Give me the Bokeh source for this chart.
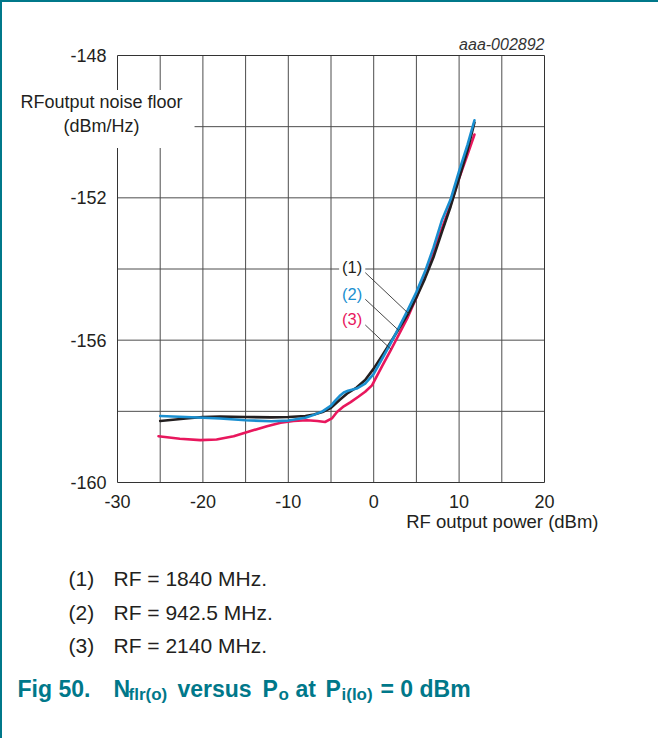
from bokeh.plotting import figure
from bokeh.models import Range1d, FixedTicker, LinearAxis, Label
from bokeh.embed import file_html
from bokeh.resources import INLINE

# ---------------- data ----------------
x_1840 = [-25, -22, -20, -18, -15, -12, -10, -8, -7, -6, -5, -4, -3, -2, -1, 0,
          1, 2, 3, 4, 5, 6, 7, 8, 9, 10, 11, 11.8]
y_1840 = [-158.27, -158.20, -158.16, -158.15, -158.16, -158.17, -158.16, -158.13,
          -158.09, -158.02, -157.90, -157.68, -157.48, -157.33, -157.12, -156.80,
          -156.43, -156.05, -155.66, -155.27, -154.80, -154.27, -153.67, -152.95,
          -152.25, -151.45, -150.65, -149.88]

x_942 = [-25, -22, -20, -18, -15, -12, -10, -8, -7, -6, -5, -4.5, -4, -3.5, -3, -2,
         -1, 0, 1, 2, 3, 4, 5, 6, 7, 8, 9, 10, 11, 11.8]
y_942 = [-158.13, -158.16, -158.18, -158.20, -158.25, -158.28, -158.26, -158.18,
         -158.10, -158.00, -157.84, -157.70, -157.57, -157.47, -157.42, -157.36,
         -157.22, -156.95, -156.52, -156.08, -155.62, -155.15, -154.65, -154.08,
         -153.40, -152.62, -152.05, -151.25, -150.50, -149.82]

x_2140 = [-25.2, -22.7, -20.3, -18.4, -16.4, -14.5, -12.5, -10.9, -9.4, -7.8, -6.6,
          -5.7, -4.9, -4.3, -3.5, -2.7, -1.8, -1.0, -0.2, 1, 2, 3, 4, 5, 6, 7, 8, 9,
          10, 11, 11.8]
y_2140 = [-158.70, -158.77, -158.81, -158.79, -158.70, -158.56, -158.42, -158.32,
          -158.27, -158.25, -158.27, -158.30, -158.20, -158.02, -157.86, -157.74,
          -157.59, -157.45, -157.27, -156.72, -156.28, -155.82, -155.35, -154.80,
          -154.15, -153.50, -152.85, -152.20, -151.45, -150.78, -150.22]

x_tick_labels = [-30, -20, -10, 0, 10, 20]
y_tick_labels = [-148, -152, -156, -160]
x_grid = [-25, -20, -15, -10, -5, 0, 5, 10, 15]
y_grid = [-158, -156, -154, -152, -150]

series_names = ["(1)", "(2)", "(3)"]
legend_texts = ["RF = 1840 MHz.", "RF = 942.5 MHz.", "RF = 2140 MHz."]

# ---------------- style ----------------
FONT = "Liberation Sans"
TEAL = "#00788a"
INK = "#231f20"
BLACK = "#231f20"
BLUE = "#1a8fd0"
RED = "#e8175d"
GRID = "#4d4d4d"

X0, X1, Y0, Y1 = -30, 20, -160, -148
FL, FT, FS = 117, 55, 427   # chart box left/top (page px) and size
CW, CH = 656, 736           # canvas size
OX, OY = 2, 2               # canvas origin on the page (after border)


def X(px):
    return X0 + (px - FL) * (X1 - X0) / FS


def Y(py):
    return Y1 - (py - FT) * (Y1 - Y0) / FS


def label(px, py, text, **kw):
    opts = dict(text_font=FONT, text_color=INK, text_baseline="middle",
                text_align="left")
    opts.update(kw)
    return Label(x=X(px), y=Y(py), text=text, **opts)


p = figure(frame_width=CW, frame_height=CH, title=None,
           x_range=Range1d(X(OX), X(OX + CW)), y_range=Range1d(Y(OY + CH), Y(OY)),
           output_backend="svg", toolbar_location=None, min_border=0)
p.styles = {"border-left": "2px solid " + TEAL, "border-top": "2px solid " + TEAL}
p.outline_line_color = None
p.background_fill_color = "white"
p.border_fill_color = "white"
p.grid.visible = False

# grid lines, limited to the chart box
p.segment(x0=x_grid, y0=[Y0] * len(x_grid), x1=x_grid, y1=[Y1] * len(x_grid),
          line_color=GRID, line_width=1)
p.segment(x0=[X0] * len(y_grid), y0=y_grid, x1=[X1] * len(y_grid), y1=y_grid,
          line_color=GRID, line_width=1)

# axes drawn at the chart box edges
xa = p.xaxis[0]
ya = p.yaxis[0]
xa.fixed_location = Y0
ya.fixed_location = X0
xa.bounds = (X0, X1)
ya.bounds = (Y0, Y1)
for ax in (xa, ya):
    ax.axis_line_color = "#333333"
    ax.axis_line_width = 1
    ax.major_tick_line_color = None
    ax.minor_tick_line_color = None
    ax.major_tick_out = 0
    ax.major_tick_in = 0
    ax.major_label_text_font = FONT
    ax.major_label_text_font_size = "18px"
    ax.major_label_text_color = INK
xa.ticker = FixedTicker(ticks=x_tick_labels)
ya.ticker = FixedTicker(ticks=y_tick_labels)
xa.major_label_overrides = {v: str(v) for v in x_tick_labels}
ya.major_label_overrides = {v: str(v) for v in y_tick_labels}
xa.major_label_standoff = 12
ya.major_label_standoff = 11

top = LinearAxis(ticker=FixedTicker(ticks=[]), fixed_location=Y1, bounds=(X0, X1),
                 axis_line_color="#333333", major_tick_line_color=None,
                 minor_tick_line_color=None, major_label_text_font_size="0px")
right = LinearAxis(ticker=FixedTicker(ticks=[]), fixed_location=X1, bounds=(Y0, Y1),
                   axis_line_color="#333333", major_tick_line_color=None,
                   minor_tick_line_color=None, major_label_text_font_size="0px")
p.add_layout(top, "above")
p.add_layout(right, "right")

# curves
p.line(x_2140, y_2140, line_color=RED, line_width=2.6, line_join="round", line_cap="round")
p.line(x_1840, y_1840, line_color=BLACK, line_width=2.6, line_join="round", line_cap="round")
p.line(x_942, y_942, line_color=BLUE, line_width=2.6, line_join="round", line_cap="round")

# leader lines for curve labels (page pixel positions of annotation)
lead_start = [(364.3, 271.7), (364.3, 298.3), (364.3, 324.0)]
lead_end = [(408.3, 313.3), (398.3, 330.0), (390.7, 349.0)]
p.segment(x0=[X(a[0]) for a in lead_start], y0=[Y(a[1]) for a in lead_start],
          x1=[X(b[0]) for b in lead_end], y1=[Y(b[1]) for b in lead_end],
          line_color="#333333", line_width=0.9)

label_pos = [(351.7, 266.7), (351.7, 293.3), (351.7, 318.3)]
for name, (lx, ly), col in zip(series_names, label_pos, [INK, BLUE, RED]):
    p.add_layout(label(lx, ly, name, text_font_size="16.5px", text_color=col,
                       text_align="center", background_fill_color="white", padding=3))

# y axis title (with white box over the grid)
p.add_layout(label(106, 118.5, "RFoutput noise floor\n(dBm/Hz)",
                   text_font_size="18px", text_align="center",
                   background_fill_color="white", padding=(2, 12, 2, 12)))

# x axis title
p.add_layout(label(598, 521, "RF output power (dBm)", text_font_size="18.5px",
                   text_align="right"))

# figure id
p.add_layout(label(544, 44, "aaa-002892", text_font_size="16px",
                   text_font_style="italic", text_color="#333333", text_align="right"))

# notes below the chart
for name, txt, yy in zip(series_names, legend_texts, [578, 612, 645]):
    p.add_layout(label(68, yy, name, text_font_size="21px"))
    p.add_layout(label(113, yy, txt, text_font_size="21px"))

# figure caption with subscripts
caption = [("Fig 50.", 17, False), ("N", 113, False), ("flr(o)", 128, True),
           ("versus", 177, False), ("P", 262, False), ("o", 278, True),
           ("at", 295, False), ("P", 325, False), ("i(lo)", 341, True),
           ("= 0 dBm", 380, False)]
for txt, cx, sub in caption:
    p.add_layout(label(cx, 694 if sub else 688.5, txt,
                       text_font_size="17px" if sub else "23px",
                       text_font_style="bold", text_color=TEAL))

open("out.html", "w").write(file_html(p, INLINE))
